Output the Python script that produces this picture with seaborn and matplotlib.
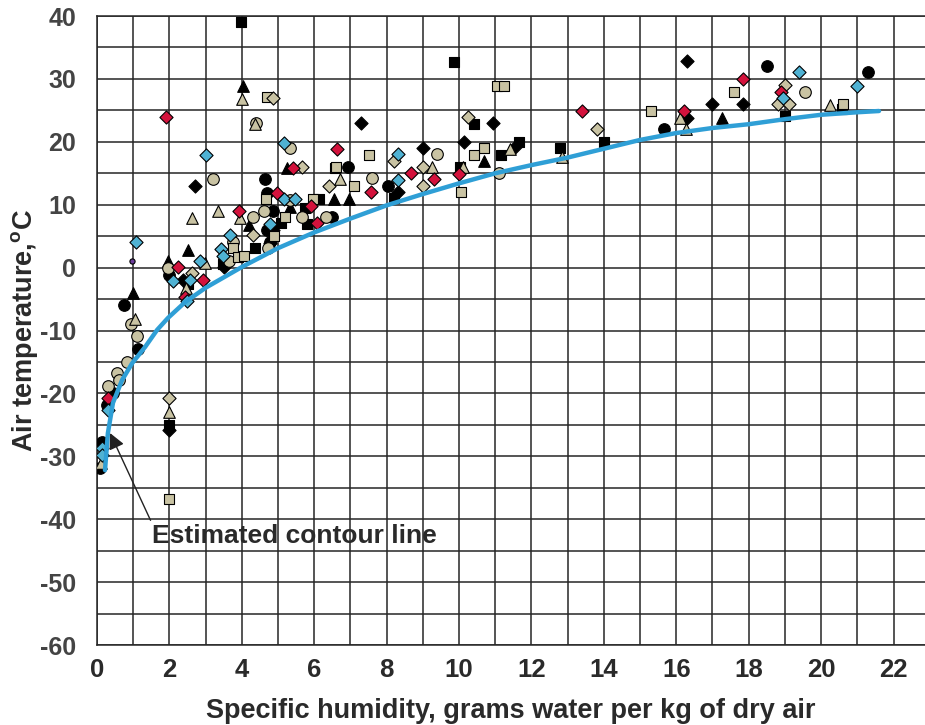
import matplotlib
matplotlib.use("Agg")
import matplotlib.pyplot as plt
import seaborn as sns
import pandas as pd

# ---- data ----
black_circle_x = [0.75, 1.13, 0.44, 0.28, 0.14, 0.08, 2.0, 4.64, 4.7, 4.85, 4.7, 6.94, 6.5, 4.83, 4.78, 8.05, 15.66, 18.5, 21.3]
black_circle_y = [-6, -13, -20, -21.8, -27.7, -31.9, -1.2, 14.1, 11.9, 9, 6, 16, 8, 6.3, 4, 13, 22, 32, 31.1]

black_square_x = [3.98, 9.86, 2.0, 10.4, 11.66, 11.16, 12.8, 14.0, 8.2, 10.03, 19.0, 20.58, 5.08, 5.75, 5.8, 6.13, 4.37, 3.48, 2.5]
black_square_y = [39, 32.7, -25, 22.8, 20, 17.9, 19, 20, 11.1, 16, 24.1, 25.2, 7.1, 9.5, 6.9, 10.9, 3.1, 0.6, -2.6]

black_diamond_x = [2.7, 2.0, 2.38, 4.87, 7.3, 10.94, 10.14, 11.55, 9.0, 8.3, 16.3, 17.0, 17.85, 16.3, 4.78, 3.5]
black_diamond_y = [13, -25.8, -2, 6, 23, 23, 20, 19.2, 19, 12, 32.9, 26, 26, 23.8, 3.9, 0.1]

black_triangle_x = [1.0, 2.5, 1.96, 4.2, 4.03, 5.25, 5.33, 6.55, 6.96, 10.7, 17.25]
black_triangle_y = [-4, 2.8, 1, 6.7, 28.9, 15.8, 9.7, 10.9, 10.9, 17, 23.8]

tan_circle_x = [1.1, 0.94, 0.83, 0.55, 0.61, 0.3, 1.97, 3.76, 3.65, 4.4, 5.33, 3.2, 4.3, 4.62, 5.66, 5.33, 6.33, 4.73, 9.4, 7.6, 11.1, 19.56]
tan_circle_y = [-10.9, -9, -15, -16.8, -17.9, -18.8, -0.1, 4.1, 1, 23, 19, 14.1, 8, 9, 8.1, 10.7, 8, 3.1, 18, 14.2, 15, 27.9]

tan_square_x = [2.0, 4.7, 4.67, 5.97, 5.2, 4.9, 3.76, 3.9, 4.05, 6.57, 7.1, 11.05, 11.24, 10.7, 10.4, 7.5, 10.05, 15.3, 17.6, 20.6, 6.6]
tan_square_y = [-36.8, 27.1, 10.9, 10.9, 8, 5, 3.1, 1.7, 1.8, 15.9, 13, 28.9, 28.9, 19, 17.9, 17.9, 12, 24.9, 27.9, 26, 16]

tan_diamond_x = [2.0, 4.86, 5.66, 4.3, 2.63, 6.4, 10.25, 13.8, 8.2, 9.0, 9.0, 19.0, 18.8, 19.1]
tan_diamond_y = [-20.8, 27, 16, 5.2, -0.9, 13, 24, 22, 17, 16, 13, 29, 26, 26]

tan_triangle_x = [1.05, 0.1, 2.0, 2.63, 3.35, 3.95, 2.98, 2.46, 4.0, 4.35, 6.7, 11.4, 9.25, 10.1, 12.85, 16.1, 16.27, 20.25]
tan_triangle_y = [-8.2, -31, -23, 7.9, 9, 7.9, 0.7, -3.3, 26.8, 22.8, 14.1, 18.8, 16, 16, 17.6, 23.8, 22, 25.9]

red_diamond_x = [1.9, 0.3, 3.93, 2.24, 2.93, 2.43, 5.41, 4.97, 5.9, 6.07, 6.63, 8.67, 9.3, 10.0, 7.56, 13.4, 17.85, 18.9, 16.2]
red_diamond_y = [24, -20.7, 9, 0.1, -2, -4.7, 15.8, 11.9, 9.8, 7.1, 18.9, 15, 14.1, 14.9, 12, 24.9, 30, 27.9, 24.9]

cyan_diamond_x = [1.08, 0.3, 0.14, 0.14, 3.0, 3.67, 3.43, 3.48, 2.85, 2.1, 2.57, 2.48, 5.17, 5.17, 4.78, 5.47, 8.3, 8.3, 19.4, 21.0, 18.95]
cyan_diamond_y = [4.1, -22.7, -28.7, -29.8, 17.9, 5.2, 3, 1.8, 1, -2.1, -2, -5.3, 19.8, 10.9, 6.9, 10.9, 18, 14, 31.1, 28.9, 27]

purple_x = [0.97]
purple_y = [1.1]

curve_x = [0.22, 0.3, 0.44, 0.69, 0.97, 1.33, 1.66, 1.96, 2.43, 3, 4, 5, 6, 7, 8, 9, 10,
           11, 12, 13, 14, 15, 16, 17, 18, 19, 20, 21, 21.6]
curve_y = [-32.2, -26.3, -21.5, -17.9, -15.2, -12.6, -9.9, -8, -5.5, -3.2, 0.1, 3.1, 5.6, 7.8, 9.9, 11.7, 13.4,
           15.0, 16.3, 17.5, 18.9, 20.3, 21.4, 22.2, 22.8, 23.6, 24.3, 24.7, 24.9]

BLACK = "#000000"
TAN = "#c9c3a3"
RED = "#d3123c"
CYAN = "#4fb2d3"
PURPLE = "#6b3d9a"
CURVE = "#2f9fd6"

groups = [
    (black_circle_x, black_circle_y, "o", BLACK, 70),
    (black_square_x, black_square_y, "s", BLACK, 55),
    (black_diamond_x, black_diamond_y, "D", BLACK, 45),
    (black_triangle_x, black_triangle_y, "^", BLACK, 70),
    (tan_circle_x, tan_circle_y, "o", TAN, 70),
    (tan_square_x, tan_square_y, "s", TAN, 55),
    (tan_diamond_x, tan_diamond_y, "D", TAN, 45),
    (tan_triangle_x, tan_triangle_y, "^", TAN, 70),
    (red_diamond_x, red_diamond_y, "D", RED, 45),
    (cyan_diamond_x, cyan_diamond_y, "D", CYAN, 45),
    (purple_x, purple_y, "o", PURPLE, 14),
]

sns.set_style("white")
plt.rcParams["font.family"] = ["Liberation Sans", "DejaVu Sans"]
plt.rcParams["axes.unicode_minus"] = False
plt.rcParams["mathtext.fontset"] = "custom"
plt.rcParams["mathtext.rm"] = "Liberation Sans"
plt.rcParams["mathtext.bf"] = "Liberation Sans:bold"

fig = plt.figure(figsize=(9.25, 7.25), dpi=100)
ax = fig.add_axes([0.1049, 0.1103, 0.8951, 0.8676])

for xs, ys, mk, col, size in groups:
    df = pd.DataFrame({"x": xs, "y": ys})
    sns.scatterplot(data=df, x="x", y="y", marker=mk, color=col, s=size,
                    edgecolor="black", linewidth=0.8, ax=ax, zorder=3)

curve = pd.DataFrame({"x": curve_x, "y": curve_y})
sns.lineplot(data=curve, x="x", y="y", sort=False, color=CURVE, lw=3.2, ax=ax, zorder=4)

ax.annotate("Estimated contour line", xy=(0.36, -26.3), xytext=(1.52, -42.6),
            fontsize=19, fontweight="bold", color="#2a2a2a", ha="left", va="center",
            arrowprops=dict(arrowstyle="-|>", color="#222222", lw=1.0,
                            mutation_scale=24, relpos=(0, 1), shrinkA=0, shrinkB=0),
            zorder=5)

ax.set_xlim(0, 22.87)
ax.set_ylim(-60, 40)
ax.set_xticks(range(0, 23, 2))
ax.set_xticks(range(0, 23, 1), minor=True)
ax.set_yticks(range(-60, 41, 10))
ax.set_yticks(range(-60, 41, 5), minor=True)
ax.grid(which="both", color="#262626", lw=1.1)
ax.set_axisbelow(True)
ax.tick_params(which="both", length=0)
ax.tick_params(axis="y", pad=15, labelsize=18, labelcolor="#444444")
ax.tick_params(axis="x", pad=9, labelsize=18.5, labelcolor="#2a2a2a")
for lab in ax.get_xticklabels() + ax.get_yticklabels():
    lab.set_fontweight("bold")

for side in ["left", "bottom", "top"]:
    ax.spines[side].set_color("#262626")
    ax.spines[side].set_linewidth(1.1)
ax.spines["right"].set_visible(False)

ax.set_xlabel("Specific humidity, grams water per kg of dry air",
              fontsize=19.5, fontweight="bold", color="#2a2a2a")
ax.set_ylabel("Air temperature,$^{\\mathbf{o}}$C",
              fontsize=19.5, fontweight="bold", color="#2a2a2a")
ax.xaxis.set_label_coords(0.5, -0.085)
ax.yaxis.set_label_coords(-0.069, 0.5)

fig.savefig("out.png", dpi=100)
